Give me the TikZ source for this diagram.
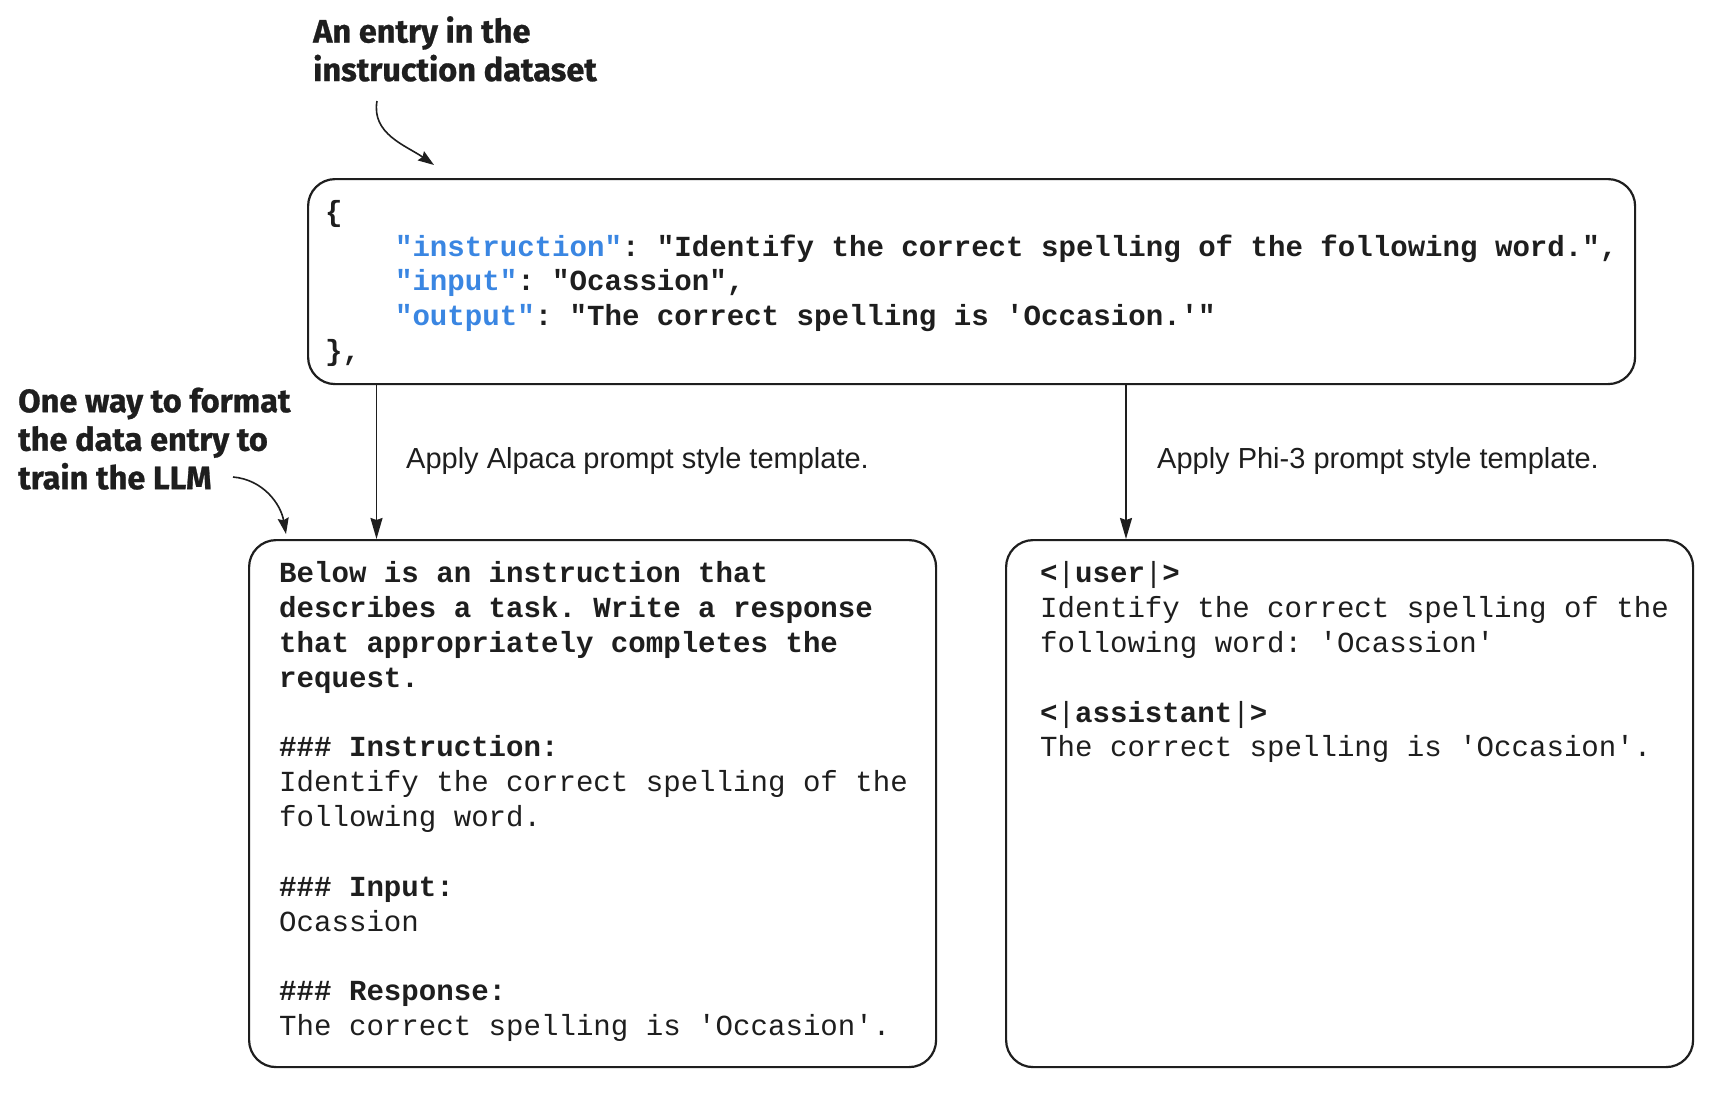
\documentclass[tikz,border=0pt]{standalone}
\usepackage{fontspec}
\setmainfont{Liberation Serif}
\setsansfont{Liberation Sans}
\setmonofont{Liberation Mono}
\newfontfamily\notefont{Fira Sans}[BoldFeatures={FakeBold=0.8}]
\usetikzlibrary{arrows.meta}

\definecolor{jsonkey}{RGB}{58,134,226}
\definecolor{ink}{RGB}{30,30,30}
\newcommand{\codesize}{\fontsize{29.1}{34.85}\selectfont\frenchspacing}
\newcommand{\notesize}{\fontsize{32.5}{38.5}\selectfont}
\newcommand{\labelsize}{\fontsize{29}{34}\selectfont}
\newcommand{\firstline}{\rule{0pt}{26pt}}
\newcommand{\ind}{\phantom{xxxx}}
\newcommand{\key}[1]{\textcolor{jsonkey}{#1}}

\begin{document}
\begin{tikzpicture}[x=1pt,y=-1pt,
  box/.style={draw=ink, line width=2.2pt, rounded corners=27pt,
    inner sep=0pt, anchor=north west},
  code/.style={inner sep=0pt, anchor=north west, align=left,
    font=\ttfamily\codesize, text=ink},
  note/.style={inner sep=0pt, anchor=north west, align=left,
    font=\notefont\bfseries\notesize, text=ink},
  label/.style={inner sep=0pt, anchor=base west,
    font=\sffamily\labelsize, text=ink},
  flow/.style={draw=ink, line width=1.8pt,
    -{Stealth[length=21pt,width=12pt,inset=2pt]}},
  curve/.style={draw=ink, line width=1.6pt,
    -{Stealth[length=16pt,width=11pt,inset=2pt]}}]

\useasboundingbox (0,0) rectangle (1716,1100);
\fill[white] (0,0) rectangle (1716,1100);

% the three frames
\node[box, minimum width=1327pt, minimum height=205pt] (entry) at (307,178) {};
\node[box, minimum width=687pt, minimum height=527pt] (alpaca) at (248,539) {};
\node[box, minimum width=687pt, minimum height=527pt] (phi) at (1005,539) {};

% dataset entry in JSON, all in bold
\node[code, font=\ttfamily\bfseries\codesize] (entrytext) at (325,195) {\firstline\{\\
\ind\key{"instruction"}: "Identify the correct spelling of the following word.",\\
\ind\key{"input"}: "Ocassion",\\
\ind\key{"output"}: "The correct spelling is 'Occasion.'"\\
\},};

% Alpaca-style prompt
\node[code] (alpacatext) at (279,556.5) {\firstline\textbf{Below is an instruction that}\\
\textbf{describes a task. Write a response}\\
\textbf{that appropriately completes the}\\
\textbf{request.}\\
\mbox{}\\
\textbf{\#\#\# Instruction:}\\
Identify the correct spelling of the\\
following word.\\
\mbox{}\\
\textbf{\#\#\# Input:}\\
Ocassion\\
\mbox{}\\
\textbf{\#\#\# Response:}\\
The correct spelling is 'Occasion'.};

% Phi-3-style prompt
\node[code] (phitext) at (1040,556.5) {\firstline\textbf{<}|\textbf{user}|\textbf{>}\\
Identify the correct spelling of the\\
following word: 'Ocassion'\\
\mbox{}\\
\textbf{<}|\textbf{assistant}|\textbf{>}\\
The correct spelling is 'Occasion'.};

% annotations
\node[note] (entrynote) at (313,16) {\firstline An entry in the\\instruction dataset};
\node[note] (formatnote) at (18,386) {\firstline One way to format\\the data entry to\\train the LLM};

% template arrows
\coordinate (xa) at (376.5,0);
\coordinate (xp) at (1126,0);
\draw[flow] (xa |- entry.south) -- (xa |- alpaca.north);
\draw[flow] (xp |- entry.south) -- (xp |- phi.north);
\node[label] (alpacalabel) at (406,468) {Apply Alpaca prompt style template.};
\node[label] (philabel) at (1157,468) {Apply Phi-3 prompt style template.};

% annotation pointers
\coordinate (n1s) at (377,101);
\coordinate (n1e) at (434,165);
\draw[curve] (n1s) to[out=-100, in=145] (n1e);
\coordinate (n2s) at (233,477);
\coordinate (n2e) at (286,534);
\draw[curve] (n2s) to[out=-5, in=100] (n2e);
\end{tikzpicture}
\end{document}
